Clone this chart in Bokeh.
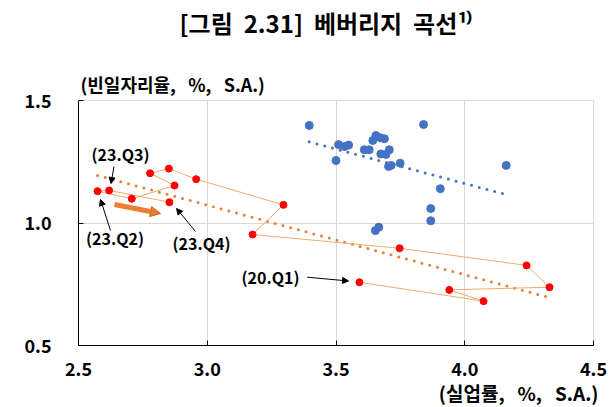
import numpy as np
from bokeh.plotting import figure
from bokeh.models import (Range1d, FixedTicker, NumeralTickFormatter, Label,
                          Arrow, NormalHead, Title)
from bokeh.embed import file_html
from bokeh.resources import INLINE

# ---------------- data ----------------
# Pre-pandemic quarters (blue)
blue_unemp = [3.396, 3.500, 3.510, 3.533, 3.549, 3.610, 3.629, 3.643, 3.655, 3.672,
              3.688, 3.674, 3.694, 3.707, 3.704, 3.714, 3.749, 3.840, 4.161, 3.905,
              3.868, 3.868, 3.653, 3.666]
blue_vac = [1.398, 1.255, 1.320, 1.312, 1.318, 1.299, 1.299, 1.337, 1.357, 1.348,
            1.344, 1.282, 1.280, 1.299, 1.231, 1.235, 1.244, 1.402, 1.235, 1.140,
            1.059, 1.009, 0.969, 0.983]

# 20.Q1 - 23.Q4 (red), in time order
red_quarters = ["20.Q1", "20.Q2", "20.Q3", "20.Q4", "21.Q1", "21.Q2", "21.Q3", "21.Q4",
                "22.Q1", "22.Q2", "22.Q3", "22.Q4", "23.Q1", "23.Q2", "23.Q3", "23.Q4"]
red_unemp = [3.591, 4.073, 3.940, 4.329, 4.240, 3.747, 3.176, 3.296,
             2.957, 2.851, 2.778, 2.873, 2.707, 2.574, 2.619, 2.853]
red_vac = [0.758, 0.681, 0.727, 0.738, 0.827, 0.897, 0.953, 1.074,
           1.179, 1.222, 1.203, 1.153, 1.099, 1.130, 1.133, 1.085]

x_ticks = [2.5, 3.0, 3.5, 4.0, 4.5]
y_ticks = [0.5, 1.0, 1.5]

title_text = "[그림\u00a0 2.31]\u00a0 베버리지\u00a0 곡선¹⁾"
y_title = "(빈일자리율,\u00a0\u00a0 %,\u00a0\u00a0 S.A.)"
x_title = "(실업률,\u00a0\u00a0 %,\u00a0\u00a0 S.A.)"

# ---------------- figure ----------------
W, H = 615, 407
FL, FR = 78, 22
FT, FB = 100, 62
XMIN, XMAX, YMIN, YMAX = 2.5, 4.5, 0.5, 1.5
FW, FH = W - FL - FR, H - FT - FB
FONT = "Noto Sans CJK KR"

def dx(px):  # page pixel -> data x
    return XMIN + (px - FL) / FW * (XMAX - XMIN)

def dy(py):  # page pixel -> data y
    return YMAX - (py - FT) / FH * (YMAX - YMIN)

p = figure(width=W, height=H, output_backend="svg", toolbar_location=None,
           x_range=Range1d(XMIN, XMAX), y_range=Range1d(YMIN, YMAX),
           min_border_left=FL, min_border_right=FR, min_border_top=0,
           min_border_bottom=0, title=title_text)
p.background_fill_color = "white"
p.border_fill_color = "white"
p.outline_line_color = "#d9d9d9"
p.outline_line_width = 1

# main title (topmost)
p.title.text_font = FONT
p.title.text_font_style = "bold"
p.title.text_font_size = "24px"
p.title.text_color = "black"
p.title.align = "left"
p.title.offset = 101
p.title.vertical_align = "top"
p.title.standoff = 8

# y-axis title (nearest the frame) and a spacer
p.add_layout(Title(text=y_title, text_font=FONT, text_font_style="bold",
                   text_font_size="18px", text_color="black", align="left",
                   offset=2, standoff=8, vertical_align="bottom"), "above")
p.add_layout(Title(text=" ", text_font_size="10px", standoff=6), "above")

for ax, ticks in ((p.xaxis, x_ticks), (p.yaxis, y_ticks)):
    ax.ticker = FixedTicker(ticks=ticks)
    ax.formatter = NumeralTickFormatter(format="0.0")
    ax.axis_line_color = "black"
    ax.axis_line_width = 1
    ax.major_tick_line_color = "black"
    ax.major_tick_in = 5
    ax.major_tick_out = 0
    ax.minor_tick_line_color = None
    ax.major_label_text_font = FONT
    ax.major_label_text_font_style = "bold"
    ax.major_label_text_font_size = "18px"
    ax.major_label_text_color = "black"
p.xaxis.major_label_standoff = 16
p.yaxis.major_label_standoff = 27

# x-axis title below the axis, right aligned
p.add_layout(Title(text=x_title, text_font=FONT, text_font_style="bold",
                   text_font_size="19px", text_color="black", align="right",
                   offset=-5, standoff=0, vertical_align="top"), "below")

p.xgrid.ticker = FixedTicker(ticks=x_ticks)
p.ygrid.ticker = FixedTicker(ticks=y_ticks)
p.grid.grid_line_color = "#d9d9d9"
p.grid.grid_line_width = 1

# trend lines (least squares)
bx = np.array(blue_unemp); by = np.array(blue_vac)
rx = np.array(red_unemp); ry = np.array(red_vac)
bcoef = np.polyfit(bx, by, 1)
rcoef = np.polyfit(rx, ry, 1)
bxs = np.array([bx.min(), bx.max()])
rxs = np.array([rx.min(), rx.max()])
p.line(bxs, np.polyval(bcoef, bxs), line_color="#4472C4", line_width=3,
       line_dash="0 8", line_cap="round")
p.line(rxs, np.polyval(rcoef, rxs), line_color="#ED7D31", line_width=3,
       line_dash="0 8", line_cap="round")

# path of red quarters
p.line(red_unemp, red_vac, line_color="#F4A86E", line_width=1)

p.scatter(blue_unemp, blue_vac, size=8, fill_color="#4472C4", line_color="#4472C4")
p.scatter(red_unemp, red_vac, size=7, fill_color="#FF0000", line_color="#FF0000")

# ---------------- annotations inside the frame ----------------
def lab(x, y, t, size, align="center", baseline="middle"):
    p.add_layout(Label(x=x, y=y, text=t, text_font=FONT, text_font_style="bold",
                       text_font_size=size, text_color="black", text_align=align,
                       text_baseline=baseline))

lab(dx(120), dy(153), "(23.Q3)", "16px")
lab(dx(114.5), dy(237), "(23.Q2)", "16px")
lab(dx(201), dy(242), "(23.Q4)", "16px")
lab(dx(270), dy(276), "(20.Q1)", "16px")

def arr(x0, y0, x1, y1):
    p.add_layout(Arrow(x_start=dx(x0), y_start=dy(y0), x_end=dx(x1), y_end=dy(y1),
                       line_color="black", line_width=1,
                       end=NormalHead(size=6, fill_color="black", line_color="black")))

arr(113.5, 166, 110.5, 183)
arr(110, 230, 100, 199)
arr(195, 231, 176, 208)
arr(306.7, 276.7, 348, 280.5)

# thick orange direction arrow
p.add_layout(Arrow(x_start=dx(114), y_start=dy(204), x_end=dx(160), y_end=dy(213),
                   line_color="#ED7D31", line_width=5,
                   end=NormalHead(size=10, fill_color="#ED7D31", line_color="#C55A11",
                                  line_width=1)))

open("out.html", "w").write(file_html(p, INLINE))
